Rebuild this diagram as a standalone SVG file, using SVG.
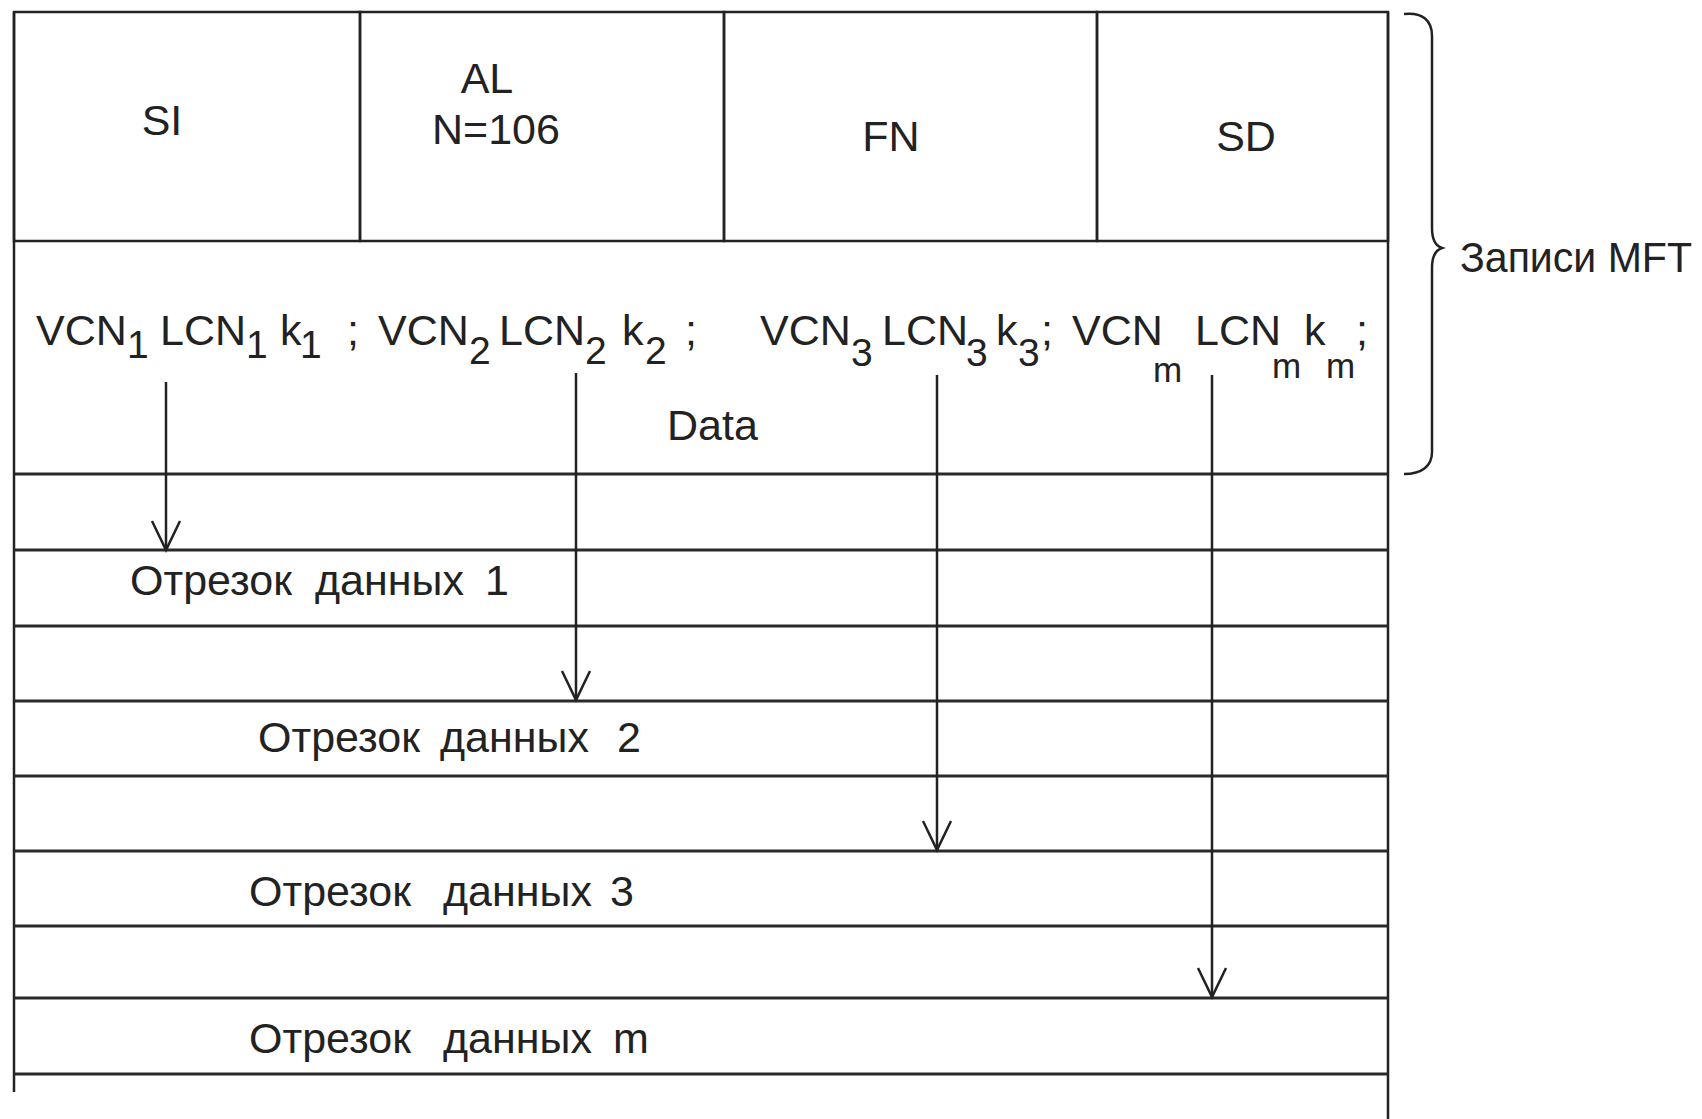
<svg xmlns="http://www.w3.org/2000/svg" width="1702" height="1119" viewBox="0 0 1702 1119">
  <defs>
    <style>
      .ln { stroke: #222; stroke-width: 2.5; fill: none; }
      .hl { stroke: #2a2a2a; stroke-width: 3; fill: none; }
      .tx { font-family: "Liberation Sans", Arial, sans-serif; font-size: 43px; fill: #222; }
      .dt { font-family: "Liberation Sans", Arial, sans-serif; font-size: 43px; fill: #222; }
      .sb { font-size: 39px; }
      .sm { font-size: 35px; }
      .arr { stroke: #222; stroke-width: 2.5; fill: none; marker-end: url(#vhead); }
    </style>
    <marker id="vhead" viewBox="-32 -16 34 32" refX="0" refY="0" markerWidth="34" markerHeight="32" markerUnits="userSpaceOnUse" orient="auto" overflow="visible">
      <path d="M-29,-14 L0,0 L-29,14" stroke="#222" stroke-width="2.5" fill="none"/>
    </marker>
  </defs>

  <rect width="1702" height="1119" fill="#fff"/>

  <!-- MFT record header fields -->
  <g id="field-si">
    <rect class="ln" x="14" y="12" width="346" height="229"/>
    <text class="tx" x="162" y="135" text-anchor="middle" font-size="44">SI</text>
  </g>
  <g id="field-al">
    <rect class="ln" x="360" y="12" width="364" height="229"/>
    <text class="tx" x="487" y="93" text-anchor="middle">AL</text>
    <text class="tx" x="496" y="144" text-anchor="middle" font-size="42">N=106</text>
  </g>
  <g id="field-fn">
    <rect class="ln" x="724" y="12" width="373" height="229"/>
    <text class="tx" x="891" y="151" text-anchor="middle">FN</text>
  </g>
  <g id="field-sd">
    <rect class="ln" x="1097" y="12" width="291" height="229"/>
    <text class="tx" x="1246" y="151" text-anchor="middle" font-size="44">SD</text>
  </g>

  <!-- Data attribute with the run list -->
  <g id="field-data">
    <line class="hl" x1="14" y1="474" x2="1388" y2="474"/>
    <text class="dt">
      <tspan x="36" y="345">VCN</tspan><tspan class="sb" x="127" y="358">1</tspan>
      <tspan x="160" y="345">LCN</tspan><tspan class="sb" x="246" y="358">1</tspan>
      <tspan x="280" y="345">k</tspan><tspan class="sb" x="300" y="358">1</tspan>
      <tspan x="347" y="345">;</tspan>
      <tspan x="378" y="345">VCN</tspan><tspan class="sb" x="469" y="364">2</tspan>
      <tspan x="499" y="345">LCN</tspan><tspan class="sb" x="585" y="364">2</tspan>
      <tspan x="622" y="345">k</tspan><tspan class="sb" x="645" y="364">2</tspan>
      <tspan x="685" y="345">;</tspan>
      <tspan x="760" y="345">VCN</tspan><tspan class="sb" x="851" y="366">3</tspan>
      <tspan x="882" y="345">LCN</tspan><tspan class="sb" x="966" y="366">3</tspan>
      <tspan x="996" y="345">k</tspan><tspan class="sb" x="1018" y="366">3</tspan>
      <tspan x="1041" y="345">;</tspan>
      <tspan x="1072" y="345">VCN</tspan><tspan class="sm" x="1153" y="382">m</tspan>
      <tspan x="1195" y="345">LCN</tspan><tspan class="sm" x="1272" y="378">m</tspan>
      <tspan x="1304" y="345">k</tspan><tspan class="sm" x="1326" y="378">m</tspan>
      <tspan x="1356" y="345">;</tspan>
    </text>
    <text class="tx" x="667" y="440" font-size="42">Data</text>
  </g>

  <!-- Disk area rows -->
  <g id="disk-rows">
    <line class="ln" x1="14" y1="12" x2="14" y2="1092"/>
    <line class="ln" x1="1388" y1="12" x2="1388" y2="1119"/>
    <line class="hl" x1="14" y1="550" x2="1388" y2="550"/>
    <line class="hl" x1="14" y1="626" x2="1388" y2="626"/>
    <line class="hl" x1="14" y1="701" x2="1388" y2="701"/>
    <line class="hl" x1="14" y1="776" x2="1388" y2="776"/>
    <line class="hl" x1="14" y1="851" x2="1388" y2="851"/>
    <line class="hl" x1="14" y1="926" x2="1388" y2="926"/>
    <line class="hl" x1="14" y1="998" x2="1388" y2="998"/>
    <line class="hl" x1="14" y1="1074" x2="1388" y2="1074"/>
  </g>

  <g id="run-1">
    <text class="tx" y="595" font-size="42"><tspan x="130">Отрезок</tspan><tspan x="315">данных</tspan><tspan x="485">1</tspan></text>
  </g>
  <g id="run-2">
    <text class="tx" y="752" font-size="42"><tspan x="258">Отрезок</tspan><tspan x="440">данных</tspan><tspan x="617">2</tspan></text>
  </g>
  <g id="run-3">
    <text class="tx" y="906" font-size="42"><tspan x="249">Отрезок</tspan><tspan x="443">данных</tspan><tspan x="610">3</tspan></text>
  </g>
  <g id="run-m">
    <text class="tx" y="1053" font-size="42"><tspan x="249">Отрезок</tspan><tspan x="443">данных</tspan><tspan x="613">m</tspan></text>
  </g>

  <!-- Brace grouping the MFT record -->
  <g id="mft-brace">
    <path class="ln" d="M1404,14 C1422,12 1432,20 1432,36 L1432,228 C1432,240 1436,246 1442,248 C1436,250 1432,256 1432,268 L1432,452 C1432,466 1422,474 1404,474"/>
    <text class="tx" x="1460" y="272" font-size="41" textLength="232" lengthAdjust="spacingAndGlyphs">Записи MFT</text>
  </g>

  <!-- Run pointers -->
  <g id="connectors">
    <line class="arr" x1="166" y1="382" x2="166" y2="550"/>
    <line class="arr" x1="576" y1="373" x2="576" y2="700"/>
    <line class="arr" x1="937" y1="375" x2="937" y2="850"/>
    <line class="arr" x1="1212" y1="375" x2="1212" y2="997"/>
  </g>
</svg>
